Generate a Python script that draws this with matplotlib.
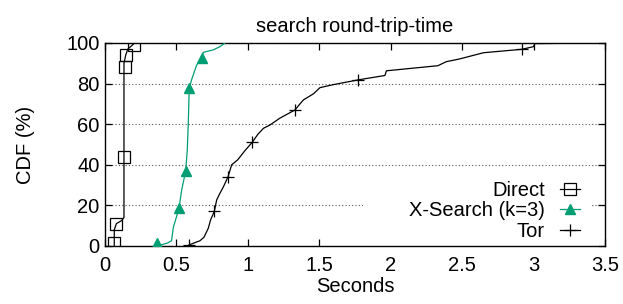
import matplotlib
matplotlib.use("Agg")
import matplotlib.pyplot as plt
from matplotlib.patches import Rectangle

plt.rcParams['font.family'] = ['Liberation Sans', 'DejaVu Sans']

# curve data (seconds, CDF %)
direct_x = [0.065, 0.065, 0.08, 0.116, 0.133, 0.133, 0.145, 0.16, 0.2]
direct_y = [0, 8, 11, 12.5, 14, 90, 94, 97, 99.5]
direct_mx = [0.063, 0.08, 0.133, 0.138, 0.148, 0.2]
direct_my = [1.6, 11, 44, 88, 94, 99]

xs_x = [0.364, 0.44, 0.466, 0.478, 0.518, 0.537, 0.565, 0.576, 0.583, 0.59,
        0.606, 0.641, 0.677, 0.688, 0.758, 0.805, 0.84]
xs_y = [0, 1.5, 2.6, 9, 18.5, 27.6, 37, 47, 60, 77.7,
        81.8, 89, 93, 95.4, 96.6, 98.2, 100]
xs_mx = [0.364, 0.518, 0.565, 0.59, 0.677]
xs_my = [1.6, 18.5, 37, 77.7, 92.4]

tor_x = [0.588, 0.665, 0.693, 0.723, 0.739, 0.765, 0.782, 0.805, 0.828, 0.861,
         0.887, 0.93, 0.98, 1.03, 1.07, 1.11, 1.155, 1.225, 1.33, 1.365,
         1.39, 1.46, 1.505, 1.6, 1.77, 1.96, 1.97, 2.33, 2.39, 2.48,
         2.65, 2.92, 3.0, 3.01, 3.5]
tor_y = [0.5, 2.6, 4.3, 8.7, 12.8, 17, 22.7, 26, 29, 34,
         40, 42.5, 47, 51, 55, 58, 59.6, 63, 67, 70,
         72, 75, 78, 79.5, 81.8, 84, 86.3, 88.8, 90.8, 92.1,
         95.2, 96.9, 98.2, 99.7, 100]
tor_mx = [0.588, 0.765, 0.861, 1.03, 1.33, 1.77, 2.92]
tor_my = [0.5, 17, 34, 51, 67, 81.8, 96.9]

green = '#009e73'
fs = 14.5

fig = plt.figure(figsize=(6.23, 3.04), dpi=100)
ax = fig.add_axes([0.1685, 0.1908, 0.8025, 0.6678])

ax.plot(direct_x, direct_y, color='black', lw=0.9, zorder=3)
ax.plot(direct_mx, direct_my, ls='none', marker='s', ms=9, mfc='none',
        mec='black', mew=0.9, zorder=3)
ax.plot(xs_x, xs_y, color=green, lw=0.9, zorder=3)
ax.plot(xs_mx, xs_my, ls='none', marker='^', ms=7.5, color=green, zorder=3)
ax.plot(tor_x, tor_y, color='black', lw=0.9, zorder=3)
ax.plot(tor_mx, tor_my, ls='none', marker='+', ms=8, mew=0.9,
        color='black', zorder=3)

# legend handles
ax.plot([], [], color='black', lw=0.9, marker='s', ms=8, mfc='none',
        mew=0.9, label='Direct')
ax.plot([], [], color=green, lw=0.9, marker='^', ms=7.5, label='X-Search (k=3)')
ax.plot([], [], color='black', lw=0.9, marker='+', ms=8, mew=0.9, label='Tor')

ax.add_patch(Rectangle((0.516, 0.0), 0.456, 0.35, transform=ax.transAxes,
                       facecolor='white', edgecolor='none', zorder=1))

handles, labels = ax.get_legend_handles_labels()
ax.legend(handles[-3:], labels[-3:], loc='lower right',
          bbox_to_anchor=(0.95, 0.025), frameon=False, markerfirst=False,
          fontsize=fs, handlelength=1.0, handletextpad=0.75,
          labelspacing=0.08, borderpad=0, borderaxespad=0)

ax.set_xlim(0, 3.5)
ax.set_ylim(0, 100)
ax.set_xticks([0, 0.5, 1, 1.5, 2, 2.5, 3, 3.5])
ax.set_xticklabels(['0', '0.5', '1', '1.5', '2', '2.5', '3', '3.5'])
ax.set_yticks([0, 20, 40, 60, 80, 100])
ax.yaxis.grid(True, ls=(0, (1, 2)), color='#555555', lw=0.8)
ax.set_axisbelow(True)
ax.tick_params(direction='in', length=5, width=0.9, top=True, right=True,
               labelsize=fs)
ax.tick_params(axis='x', pad=7)
ax.tick_params(axis='y', pad=4)
for s in ax.spines.values():
    s.set_linewidth(1.0)

ax.set_title('search round-trip-time', fontsize=fs, pad=8)
ax.set_xlabel('Seconds', fontsize=fs, labelpad=2)
ax.set_ylabel('CDF (%)', fontsize=fs, labelpad=22)

fig.savefig('out.png', dpi=100)
